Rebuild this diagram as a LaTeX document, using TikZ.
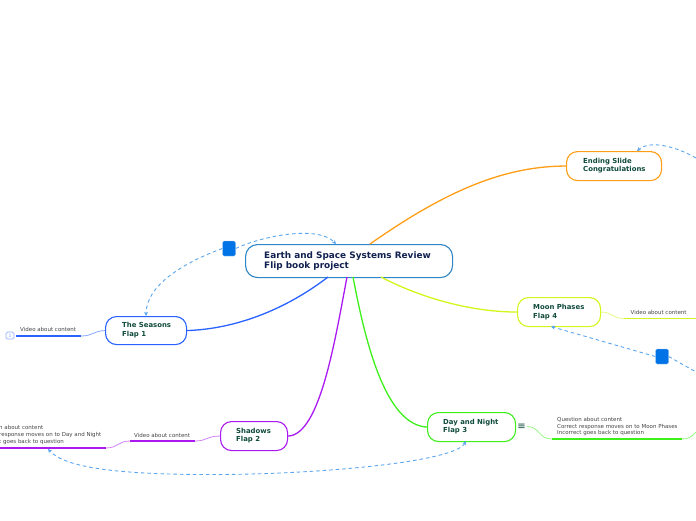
\documentclass[tikz,border=0pt]{standalone}
\usepackage{fontspec}
\setmainfont{DejaVu Sans}
\usetikzlibrary{arrows.meta}
\definecolor{cblue}{HTML}{2962FF}
\definecolor{cpurple}{HTML}{AA1AF0}
\definecolor{cgreen}{HTML}{3DF01A}
\definecolor{cyellow}{HTML}{D4F51A}
\definecolor{corange}{HTML}{FF9D14}
\definecolor{rootc}{HTML}{2E86C8}
\definecolor{linkc}{HTML}{5AA5EE}
\definecolor{boxc}{HTML}{0073E6}
\definecolor{titlec}{HTML}{10204F}
\definecolor{subc}{HTML}{0F4A3A}
\definecolor{leafc}{HTML}{444444}
\tikzset{
  x=1pt,y=-1pt,
  topic/.style={draw=#1,line width=1.1pt,rounded corners=11pt,anchor=north west,inner sep=0pt},
  toptext/.style={font=\fontsize{6.9}{8.6}\bfseries\selectfont,text=subc,align=left,anchor=west,inner sep=0pt},
  leaftext/.style={font=\fontsize{5.5}{6.6}\selectfont,text=leafc,align=left,anchor=west,inner sep=0pt},
  branch/.style={draw=#1,line width=1.3pt},
  thin branch/.style={draw=#1!55!white,line width=0.8pt},
  leafbar/.style={color=#1,line width=1.8pt,line cap=butt},
  linkline/.style={draw=linkc,dash pattern=on 3.5pt off 3pt,line width=0.9pt},
  linkarrow/.style={linkline,-{Stealth[length=4pt,width=4pt]}},
  linkboth/.style={linkline,{Stealth[length=4pt,width=4pt]}-{Stealth[length=4pt,width=4pt]}},
  marker/.style={fill=boxc,draw=boxc!40!white,line width=0.3pt,rounded corners=1.5pt,minimum width=13pt,minimum height=15pt,inner sep=0pt}
}
\begin{document}
\begin{tikzpicture}
\useasboundingbox (0,0) rectangle (696,520);
% topic boxes
\node[topic=rootc,minimum width=207pt,minimum height=33pt,rounded corners=12pt] (root) at (245,244) {};
\node[topic=corange,minimum width=95pt,minimum height=29pt] (ending) at (566,151) {};
\node[topic=cyellow,minimum width=83pt,minimum height=29pt] (moon) at (517,297) {};
\node[topic=cgreen,minimum width=88pt,minimum height=29pt] (day) at (427,412) {};
\node[topic=cpurple,minimum width=67pt,minimum height=29pt] (shadows) at (220,421) {};
\node[topic=cblue,minimum width=81pt,minimum height=28pt] (seasons) at (105,316) {};
% free ends
\coordinate (moonA) at (624,318.5);
\coordinate (moonB) at (696,318.5);
\coordinate (dayA) at (552,439);
\coordinate (dayB) at (682,439);
\coordinate (dayC) at (696,432);
\coordinate (dayI) at (527,426.5);
\coordinate (shA) at (195,441);
\coordinate (shB) at (130,441);
\coordinate (shC) at (106,448);
\coordinate (shD) at (-2,448);
\coordinate (seA) at (81,336);
\coordinate (seB) at (16,336);
\coordinate (rO) at (370,244);
\coordinate (rB) at (328,277);
\coordinate (rP) at (347,277);
\coordinate (rG) at (353,277);
\coordinate (rY) at (381,277);
% main branches
\draw[branch=corange] (rO) .. controls (440,195) and (500,166) .. (ending.west);
\draw[branch=cblue] (rB) .. controls (285,310) and (235,329) .. (seasons.east);
\draw[branch=cpurple] (rP) .. controls (335,340) and (320,435) .. (shadows.east);
\draw[branch=cgreen] (rG) .. controls (365,340) and (385,425) .. (day.west);
\draw[branch=cyellow] (rY) .. controls (425,300) and (475,312) .. (moon.west);
% sub branches
\draw[thin branch=cblue] (seasons.west) .. controls (93,331) and (93,336) .. (seA);
\draw[leafbar=cblue] (seA) -- (seB);
\draw[thin branch=cpurple] (shadows.west) .. controls (207,436) and (207,441) .. (shA);
\draw[leafbar=cpurple] (shA) -- (shB);
\draw[thin branch=cpurple] (shB) .. controls (118,441) and (118,448) .. (shC);
\draw[leafbar=cpurple] (shC) -- (shD);
\draw[thin branch=cyellow] (moon.east) .. controls (612,312) and (612,318.5) .. (moonA);
\draw[leafbar=cyellow] (moonA) -- (moonB);
\draw[thin branch=cgreen] (dayI) .. controls (540,426.5) and (538,439) .. (dayA);
\draw[leafbar=cgreen] (dayA) -- (dayB);
\draw[thin branch=cgreen] (dayB) .. controls (688,439) and (692,437) .. (dayC);
% markers
\node[marker] (m1) at (229,248.5) {};
\node[marker] (m2) at (662,356.5) {};
% relationship links
\coordinate (rTop) at (336,244);
\coordinate (e1) at (696,158);
\coordinate (e2) at (696,372);
\coordinate (eTop) at (637,151);
\coordinate (mBot) at (551,326.5);
\coordinate (sh2) at (48,449);
\coordinate (d2) at (466,441);
\draw[linkarrow] (m1.east) .. controls (262,236) and (318,225) .. (rTop);
\draw[linkarrow] (m1.west) .. controls (185,262) and (146,285) .. (seasons.north);
\draw[linkarrow] (e1) .. controls (675,146) and (650,140) .. (eTop);
\draw[linkarrow] (m2.west) -- (mBot);
\draw[linkline] (m2.east) -- (e2);
\draw[linkboth] (d2) .. controls (455,462) and (320,474) .. (220,474.5) .. controls (120,475) and (65,468) .. (sh2);
% texts
\node[font=\fontsize{8.9}{10.8}\bfseries\selectfont,text=titlec,align=left,anchor=west,inner sep=0pt] (t0) at (264,261) {Earth and Space Systems Review\\Flip book project};
\node[toptext] (t1) at (583,165.7) {Ending Slide\\Congratulations};
\node[toptext] (t2) at (533,312) {Moon Phases\\Flap 4};
\node[toptext] (t3) at (443,426.5) {Day and Night\\Flap 3};
\node[toptext] (t4) at (236,435.5) {Shadows\\Flap 2};
\node[toptext] (t5) at (122,330) {The Seasons\\Flap 1};
\node[leaftext] (l1) at (20,329) {Video about content};
\node[leaftext] (l2) at (134,435) {Video about content};
\node[leaftext] (l3) at (630.5,312) {Video about content};
\node[leaftext,anchor=east,align=left] (l4) at (101.5,435) {n about content\\response moves on to Day and Night\\t goes back to question};
\node[leaftext] (l5) at (557,426.5) {Question about content\\Correct response moves on to Moon Phases\\Incorrect goes back to question};
% icons
\node[draw=cblue!50!white,fill=white,line width=0.7pt,rounded corners=1.5pt,minimum width=8pt,minimum height=7pt,inner sep=0pt,font=\fontsize{4.5}{5}\selectfont,text=cblue!60!white] (n1) at (10,335.5) {1};
\node[font=\fontsize{10}{10}\selectfont,text=subc,inner sep=0pt] (n2) at (521.5,426.5) {≡};
\end{tikzpicture}
\end{document}
